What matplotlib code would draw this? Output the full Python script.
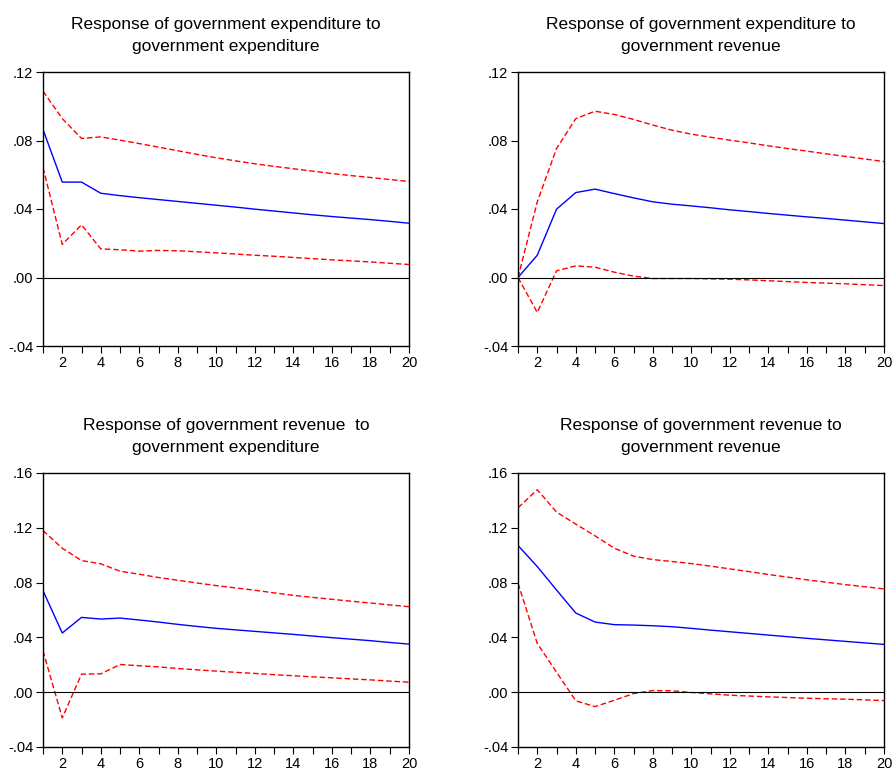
import matplotlib
matplotlib.use("Agg")
import matplotlib.pyplot as plt
import numpy as np

plt.rcParams['font.family'] = ['Liberation Sans', 'DejaVu Sans']

periods = list(range(1, 21))

# Panel 1: government expenditure -> government expenditure
p1_resp = [0.0864, 0.0557, 0.0557, 0.0492, 0.0478, 0.0466, 0.0455, 0.0444, 0.0433, 0.0422,
           0.0411, 0.0399, 0.0388, 0.0377, 0.0366, 0.0356, 0.0347, 0.0338, 0.0328, 0.0317]
p1_up = [0.1088, 0.0928, 0.0812, 0.0821, 0.0802, 0.0782, 0.0761, 0.0740, 0.0719, 0.0699,
         0.0681, 0.0664, 0.0649, 0.0635, 0.0621, 0.0607, 0.0595, 0.0584, 0.0572, 0.0561]
p1_lo = [0.0642, 0.0193, 0.0308, 0.0167, 0.0162, 0.0154, 0.0158, 0.0156, 0.0150, 0.0144,
         0.0137, 0.0130, 0.0124, 0.0117, 0.0110, 0.0103, 0.0097, 0.0091, 0.0083, 0.0076]

# Panel 2: government expenditure -> government revenue
p2_resp = [0.0, 0.0130, 0.0399, 0.0496, 0.0516, 0.0490, 0.0465, 0.0442, 0.0428, 0.0418,
           0.0407, 0.0395, 0.0385, 0.0374, 0.0364, 0.0354, 0.0345, 0.0335, 0.0325, 0.0315]
p2_up = [0.0, 0.0442, 0.0753, 0.0928, 0.0971, 0.0952, 0.0923, 0.0890, 0.0860, 0.0837,
         0.0819, 0.0802, 0.0786, 0.0769, 0.0753, 0.0738, 0.0722, 0.0707, 0.0692, 0.0677]
p2_lo = [0.0, -0.0204, 0.0039, 0.0068, 0.0060, 0.0031, 0.0008, -0.0006, -0.0006, -0.0006,
         -0.0008, -0.0010, -0.0014, -0.0019, -0.0024, -0.0029, -0.0033, -0.0037, -0.0042, -0.0047]

# Panel 3: government revenue -> government expenditure
p3_resp = [0.0741, 0.0432, 0.0546, 0.0534, 0.0541, 0.0527, 0.0512, 0.0495, 0.0480, 0.0466,
           0.0455, 0.0444, 0.0433, 0.0422, 0.0410, 0.0398, 0.0387, 0.0376, 0.0363, 0.0351]
p3_up = [0.1180, 0.1051, 0.0961, 0.0937, 0.0883, 0.0861, 0.0837, 0.0817, 0.0797, 0.0778,
         0.0761, 0.0744, 0.0725, 0.0707, 0.0692, 0.0678, 0.0664, 0.0651, 0.0637, 0.0624]
p3_lo = [0.0302, -0.0188, 0.0132, 0.0134, 0.0202, 0.0193, 0.0185, 0.0173, 0.0163, 0.0154,
         0.0145, 0.0137, 0.0128, 0.0120, 0.0112, 0.0105, 0.0097, 0.0090, 0.0081, 0.0073]

# Panel 4: government revenue -> government revenue
p4_resp = [0.1071, 0.0917, 0.0746, 0.0578, 0.0512, 0.0493, 0.0490, 0.0485, 0.0478, 0.0466,
           0.0453, 0.0441, 0.0429, 0.0417, 0.0405, 0.0393, 0.0382, 0.0371, 0.0360, 0.0349]
p4_up = [0.1346, 0.1478, 0.1315, 0.1227, 0.1141, 0.1051, 0.0993, 0.0968, 0.0954, 0.0939,
         0.0920, 0.0900, 0.0880, 0.0859, 0.0840, 0.0820, 0.0803, 0.0785, 0.0770, 0.0754]
p4_lo = [0.0795, 0.0356, 0.0146, -0.0063, -0.0105, -0.0059, -0.0010, 0.0012, 0.0010, -0.0002,
         -0.0012, -0.0022, -0.0028, -0.0034, -0.0039, -0.0044, -0.0048, -0.0051, -0.0056, -0.0061]

titles = [
    "Response of government expenditure to\ngovernment expenditure",
    "Response of government expenditure to\ngovernment revenue",
    "Response of government revenue  to\ngovernment expenditure",
    "Response of government revenue to\ngovernment revenue",
]
y_ticks_top = [-0.04, 0.00, 0.04, 0.08, 0.12]
y_ticks_bot = [-0.04, 0.00, 0.04, 0.08, 0.12, 0.16]
x_tick_labels = [2, 4, 6, 8, 10, 12, 14, 16, 18, 20]

panels = [
    (p1_resp, p1_up, p1_lo, y_ticks_top),
    (p2_resp, p2_up, p2_lo, y_ticks_top),
    (p3_resp, p3_up, p3_lo, y_ticks_bot),
    (p4_resp, p4_up, p4_lo, y_ticks_bot),
]

W, H = 892, 769
fig = plt.figure(figsize=(W / 100, H / 100), dpi=100)

# axes boxes in pixels: left, top, right, bottom
boxes = [
    (43, 72, 409, 346),
    (518, 72, 884, 346),
    (43, 473, 409, 747),
    (518, 473, 884, 747),
]

def fmt(v):
    s = "%.2f" % v
    if s.startswith("0"):
        s = s[1:]
    elif s.startswith("-0"):
        s = "-" + s[2:]
    return s

for (resp, up, lo, yt), (l, t, r, b), title in zip(panels, boxes, titles):
    ax = fig.add_axes([l / W, 1 - b / H, (r - l) / W, (b - t) / H])
    ax.plot(periods, resp, color="#0000FF", lw=1.0)
    ax.plot(periods, up, color="#FF0000", lw=1.0, ls=(0, (4, 2)))
    ax.plot(periods, lo, color="#FF0000", lw=1.0, ls=(0, (4, 2)))
    ax.axhline(0, color="black", lw=0.8)
    ax.set_xlim(1, 20)
    ax.set_ylim(yt[0], yt[-1])
    ax.set_yticks(yt)
    ax.set_yticklabels([fmt(v) for v in yt])
    ax.set_xticks(periods)
    ax.set_xticklabels([str(p) if p in x_tick_labels else "" for p in periods])
    ax.tick_params(direction="out", length=5, width=0.8, labelsize=10.5, pad=2, colors="black")
    for sp in ax.spines.values():
        sp.set_linewidth(1.0)
        sp.set_color("black")
    ax.set_title(title, fontsize=12.5, pad=15, linespacing=1.6)

fig.savefig("out.png", dpi=100)
